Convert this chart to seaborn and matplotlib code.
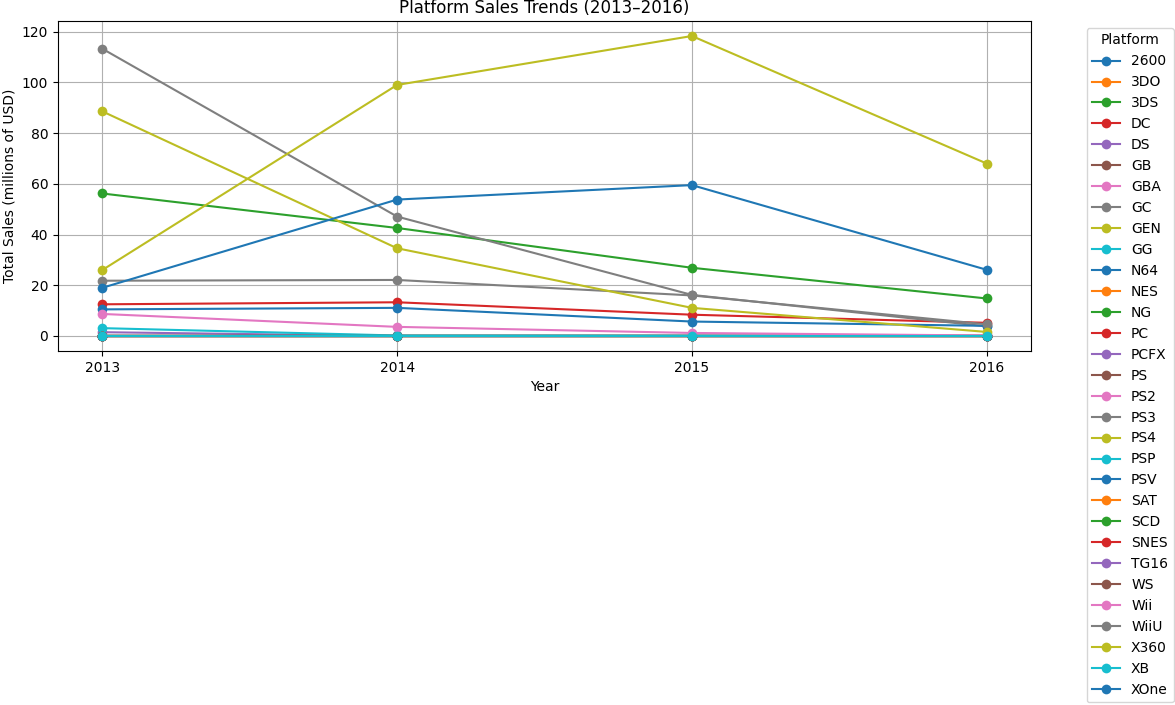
# Platform sales trends 2013-2016, line per platform
import pandas as pd
import numpy as np
import matplotlib
matplotlib.use('Agg')
import matplotlib.pyplot as plt
import seaborn as sns

years = [2013, 2014, 2015, 2016]

platforms = ['2600', '3DO', '3DS', 'DC', 'DS', 'GB', 'GBA', 'GC', 'GEN', 'GG',
             'N64', 'NES', 'NG', 'PC', 'PCFX', 'PS', 'PS2', 'PS3', 'PS4', 'PSP',
             'PSV', 'SAT', 'SCD', 'SNES', 'TG16', 'WS', 'Wii', 'WiiU', 'X360',
             'XB', 'XOne']

# values (millions of USD), platforms not listed are 0
ps4 = [26.0, 99.0, 118.3, 68.0]
xone = [19.0, 53.8, 59.5, 26.1]
ps3 = [113.3, 47.1, 16.2, 3.8]
x360 = [88.6, 34.6, 11.1, 1.6]
ds3 = [56.2, 42.6, 26.9, 14.8]
wiiu = [21.8, 22.1, 16.0, 4.6]
pc = [12.5, 13.3, 8.4, 5.2]
psv = [10.5, 11.1, 5.7, 4.0]
wii = [8.7, 3.6, 1.2, 0.2]
psp = [3.1, 0.2, 0.1, 0.0]
ds = [1.5, 0.0, 0.0, 0.0]

nonzero = {'PS4': ps4, 'XOne': xone, 'PS3': ps3, 'X360': x360, '3DS': ds3,
           'WiiU': wiiu, 'PC': pc, 'PSV': psv, 'Wii': wii, 'PSP': psp, 'DS': ds}

rows = []
for p in platforms:
    vals = nonzero.get(p, [0.0] * len(years))
    for y, v in zip(years, vals):
        rows.append({'Year': y, 'Platform': p, 'Sales': v})
df = pd.DataFrame(rows)

tab10 = sns.color_palette('tab10', 10)
palette = [tab10[i % 10] for i in range(len(platforms))]

fig, ax = plt.subplots(figsize=(11.75, 7.05), dpi=100)
plt.subplots_adjust(left=58 / 1175, right=1031 / 1175, top=1 - 21 / 705, bottom=1 - 351 / 705)

sns.lineplot(data=df, x='Year', y='Sales', hue='Platform', hue_order=platforms,
             palette=palette, marker='o', markersize=7, markeredgewidth=0,
             linewidth=1.5, legend=False, ax=ax)

ax.set_xticks(years)
ax.set_title('Platform Sales Trends (2013–2016)')
ax.set_xlabel('Year')
ax.set_ylabel('Total Sales (millions of USD)')
ax.grid(True)

ax.legend(ax.lines[:len(platforms)], platforms, title='Platform',
          bbox_to_anchor=(1.05, 1), loc='upper left')

plt.savefig('out.png', dpi=100)
